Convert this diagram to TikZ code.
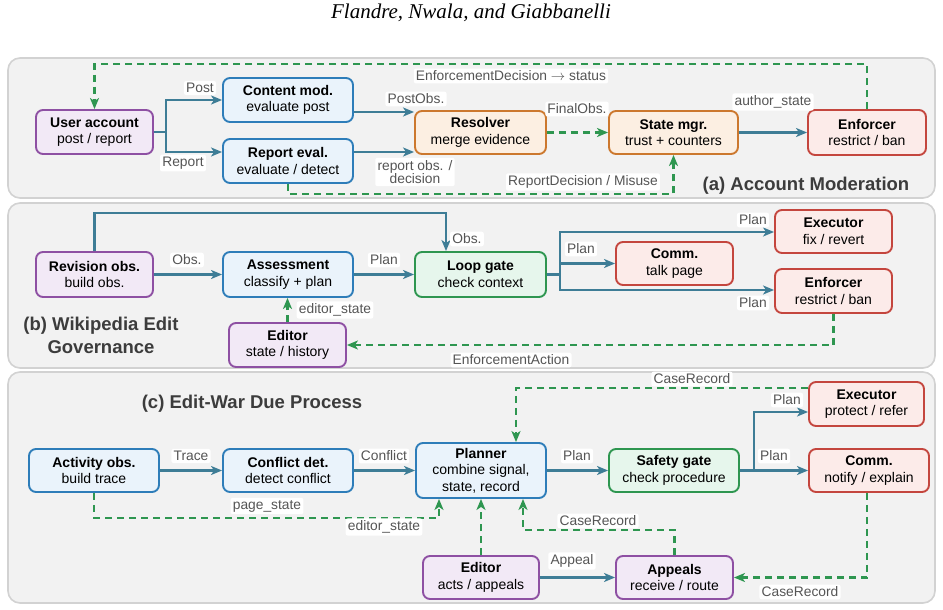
\documentclass[tikz,border=0pt]{standalone}
\usepackage{fontspec}
\setmainfont{Liberation Sans}
\newfontfamily\titlefont{Liberation Serif}
\usetikzlibrary{arrows.meta,calc}
\definecolor{bluebd}{RGB}{46,125,185}
\definecolor{bluefl}{RGB}{234,243,251}
\definecolor{purpbd}{RGB}{142,80,163}
\definecolor{purpfl}{RGB}{242,233,246}
\definecolor{orbd}{RGB}{204,120,46}
\definecolor{orfl}{RGB}{252,239,226}
\definecolor{redbd}{RGB}{196,70,62}
\definecolor{redfl}{RGB}{252,235,233}
\definecolor{grbd}{RGB}{46,150,80}
\definecolor{grfl}{RGB}{230,246,236}
\definecolor{solcol}{RGB}{62,125,150}
\definecolor{dshcol}{RGB}{46,150,80}
\definecolor{panelfl}{RGB}{242,242,242}
\definecolor{panelbd}{RGB}{210,210,210}
\definecolor{lblcol}{RGB}{85,85,85}
\definecolor{ptitle}{RGB}{60,60,60}
\tikzset{
  box/.style={draw, rounded corners=7pt, line width=1.9pt, align=center, inner sep=0pt,
    font=\fontsize{14}{16.5}\selectfont, text=black},
  wh/.style 2 args={minimum width=#1, minimum height=#2},
  bluebox/.style={box, draw=bluebd, fill=bluefl},
  purpbox/.style={box, draw=purpbd, fill=purpfl},
  orbox/.style={box, draw=orbd, fill=orfl},
  redbox/.style={box, draw=redbd, fill=redfl},
  grbox/.style={box, draw=grbd, fill=grfl},
  tip/.style={-{Stealth[length=11pt,width=9pt,inset=3pt]}},
  sol/.style={draw=solcol, line width=2.5pt, tip},
  dsh/.style={draw=dshcol, line width=2.5pt, dash pattern=on 7pt off 5pt, tip},
  lbl/.style={fill=white, rounded corners=2pt, inner sep=2.2pt, text=lblcol,
    font=\fontsize{13.8}{13.5}\selectfont, align=center},
  panel/.style={draw=panelbd, fill=panelfl, line width=1.6pt, rounded corners=12pt},
  ptitlestyle/.style={text=ptitle, font=\bfseries\fontsize{18.5}{23}\selectfont, align=center, inner sep=0pt},
}
\begin{document}
\begin{tikzpicture}[x=1pt,y=-1pt]
\useasboundingbox (0,0) rectangle (943,610);
\node[font=\titlefont\itshape\fontsize{21}{24}\selectfont, inner sep=0pt] (title) at (471,13) {Flandre, Nwala, and Giabbanelli};

% panels
\draw[panel] (8,58) rectangle (935,198);
\draw[panel] (8,203) rectangle (935,368);
\draw[panel] (8,372) rectangle (935,603);

% ---------- (a) ----------
\node[purpbox, wh={117pt}{44pt}] (ua) at (94.5,132) {\textbf{User account}\\post / report};
\node[bluebox, wh={130pt}{44pt}] (cm) at (288,100) {\textbf{Content mod.}\\evaluate post};
\node[bluebox, wh={130pt}{44pt}] (re) at (288,161) {\textbf{Report eval.}\\evaluate / detect};
\node[orbox, wh={131pt}{43pt}] (res) at (480.5,132.5) {\textbf{Resolver}\\merge evidence};
\node[orbox, wh={129pt}{43pt}] (sm) at (673.5,132.5) {\textbf{State mgr.}\\trust + counters};
\node[redbox, wh={118pt}{45pt}] (enf) at (867,132.5) {\textbf{Enforcer}\\restrict / ban};

\draw[sol] (ua.east) -- ++(12,0) |- (cm.west);
\draw[sol] (ua.east) -- ++(12,0) |- ([yshift=9pt]re.west);
\draw[sol] ([yshift=-12pt]cm.east) -- ([yshift=-12pt]cm.east -| res.west);
\draw[sol] ([yshift=9pt]re.east) -- ([yshift=9pt]re.east -| res.west);
\draw[dsh] (res) -- (sm);
\draw[sol] (sm) -- (enf);
\draw[dsh] (enf.north) -- ++(0,-45) -| (ua.north);
\draw[dsh] (re.south) -- ++(0,10) -| (sm.south);

\node[lbl] (lpost) at (200,88) {Post};
\node[lbl] (lreport) at (183,163) {Report};
\node[lbl] (lpostobs) at (416,99) {PostObs.};
\node[lbl, font=\fontsize{13.8}{11.5}\selectfont] (lrepobs) at (415,172) {report obs. /\\decision};
\node[lbl] (lfinal) at (577,109) {FinalObs.};
\node[lbl] (lauthor) at (773,102) {author\_state};
\node[lbl] (lenfdec) at (511,76) {EnforcementDecision $\rightarrow$ status};
\node[lbl] (lrepdec) at (583,182) {ReportDecision / Misuse};
\node[ptitlestyle] (pa) at (806,186) {(a) Account Moderation};

% ---------- (b) ----------
\node[purpbox, wh={117pt}{45pt}] (rev) at (94.5,274.5) {\textbf{Revision obs.}\\build obs.};
\node[bluebox, wh={130pt}{45pt}] (ass) at (288,274.5) {\textbf{Assessment}\\classify + plan};
\node[grbox, wh={131pt}{45pt}] (lg) at (480.5,274.5) {\textbf{Loop gate}\\check context};
\node[purpbox, wh={117pt}{44pt}] (ed) at (287.5,345) {\textbf{Editor}\\state / history};
\node[redbox, wh={117pt}{43pt}] (ex) at (833.5,231.5) {\textbf{Executor}\\fix / revert};
\node[redbox, wh={117pt}{43pt}] (cmm) at (674.5,263.5) {\textbf{Comm.}\\talk page};
\node[redbox, wh={117pt}{44pt}] (en2) at (833.5,291) {\textbf{Enforcer}\\restrict / ban};

\draw[sol] (rev) -- (ass);
\draw[sol] (ass) -- (lg);
\draw[sol] (rev.north) -- ++(0,-38) -| ([xshift=-34.5pt]lg.north);
\draw[sol] (lg.east) -- ++(13,0) |- ([yshift=-0.5pt]ex.west);
\draw[sol] (lg.east) -- ++(13,0) |- (cmm.west);
\draw[sol] (lg.east) -- ++(13,0) |- ([yshift=1pt]en2.west);
\draw[dsh] (en2.south) |- (ed.east);
\draw[dsh] (ed.north) -- (ed.north |- ass.south);

\node[lbl] (lobs1) at (187,260) {Obs.};
\node[lbl] (lplan1) at (384,260) {Plan};
\node[lbl] (lobs2) at (467,239) {Obs.};
\node[lbl] (lplan2) at (753,220) {Plan};
\node[lbl] (lplan3) at (581,249) {Plan};
\node[lbl] (lplan4) at (753,303) {Plan};
\node[lbl] (lenfact) at (511,360) {EnforcementAction};
\node[lbl] (ledst) at (335,310) {editor\_state};
\node[ptitlestyle] (pb) at (101,335) {(b) Wikipedia Edit\\Governance};

% ---------- (c) ----------
\node[bluebox, wh={130pt}{43pt}] (act) at (94,470.5) {\textbf{Activity obs.}\\build trace};
\node[bluebox, wh={130pt}{43pt}] (cd) at (288,470.5) {\textbf{Conflict det.}\\detect conflict};
\node[bluebox, wh={130pt}{55pt}] (pl) at (481,470.5) {\textbf{Planner}\\combine signal,\\state, record};
\node[grbox, wh={130pt}{43pt}] (sg) at (674,470.5) {\textbf{Safety gate}\\check procedure};
\node[redbox, wh={115pt}{44pt}] (ex3) at (866.5,404) {\textbf{Executor}\\protect / refer};
\node[redbox, wh={120pt}{43pt}] (cm3) at (869,470.5) {\textbf{Comm.}\\notify / explain};
\node[purpbox, wh={116pt}{43pt}] (ed3) at (481,577.5) {\textbf{Editor}\\acts / appeals};
\node[purpbox, wh={117pt}{43pt}] (ap) at (674.5,577.5) {\textbf{Appeals}\\receive / route};

\draw[sol] (act) -- (cd);
\draw[sol] (cd) -- (pl);
\draw[sol] (pl) -- (sg);
\draw[sol] (sg) -- (cm3);
\draw[sol] (sg.east) -- ++(14,0) |- ([yshift=-8pt]ex3.west);
\draw[dsh] (act.south) -- ++(0,25) -| ([xshift=-42pt]pl.south);
\draw[dsh] (ed3.north) -- (ed3.north |- pl.south);
\draw[dsh] (ap.north) -- ++(0,-25) -| ([xshift=42pt]pl.south);
\draw[sol] (ed3) -- (ap);
\draw[dsh] ([xshift=-2pt]cm3.south) |- (ap.east);
\draw[dsh] ([yshift=16pt]ex3.west) -| ([xshift=35pt]pl.north);

\node[lbl] (ltrace) at (191,456) {Trace};
\node[lbl] (lconf) at (384,456) {Conflict};
\node[lbl] (lplan5) at (577,456) {Plan};
\node[lbl] (lplan6) at (787,400) {Plan};
\node[lbl] (lplan7) at (774,456) {Plan};
\node[lbl] (lpage) at (267,506) {page\_state};
\node[lbl] (ledst3) at (384,527) {editor\_state};
\node[lbl] (lcase1) at (598,521) {CaseRecord};
\node[lbl] (lappeal) at (572,561) {Appeal};
\node[lbl] (lcase2) at (800,592) {CaseRecord};
\node[lbl] (lcase3) at (692,379) {CaseRecord};
\node[ptitlestyle] (pc) at (252,404) {(c) Edit-War Due Process};
\end{tikzpicture}
\end{document}
